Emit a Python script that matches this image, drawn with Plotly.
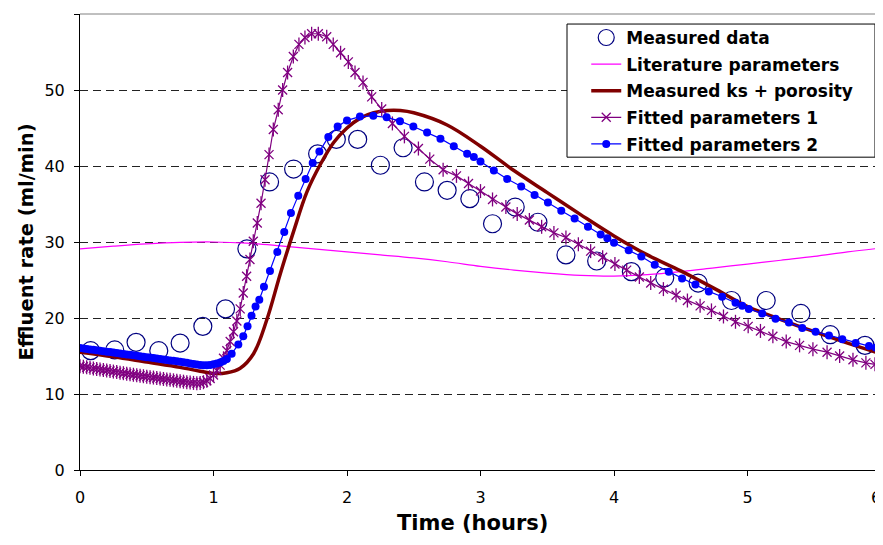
import plotly.graph_objects as go

# ---------------- data ----------------
# Measured data (open circles)
meas_t = [0.08, 0.26, 0.42, 0.59, 0.75, 0.92, 1.09, 1.25, 1.42, 1.60, 1.78, 1.92,
          2.08, 2.25, 2.42, 2.58, 2.75, 2.92, 3.09, 3.26, 3.43, 3.64, 3.87, 4.13,
          4.38, 4.63, 4.88, 5.14, 5.40, 5.62, 5.88]
meas_v = [15.7, 15.8, 16.8, 15.7, 16.7, 18.9, 21.2, 29.1, 37.9, 39.6, 41.6, 43.5,
          43.5, 40.1, 42.4, 37.9, 36.8, 35.7, 32.4, 34.6, 32.6, 28.3, 27.5, 26.1,
          25.3, 24.6, 22.3, 22.3, 20.6, 17.8, 16.4]

# Literature parameters (thin magenta line)
lit_t = [0, 0.25, 0.5, 0.75, 1.0, 1.25, 1.5, 1.75, 2.0, 2.25, 2.5, 2.75, 3.0,
         3.25, 3.5, 3.75, 4.0, 4.25, 4.5, 4.75, 5.0, 5.25, 5.5, 5.75, 6.0]
lit_v = [29.1, 29.45, 29.75, 29.95, 30.0, 29.85, 29.5, 29.1, 28.7, 28.3, 27.9,
         27.4, 26.8, 26.3, 25.9, 25.6, 25.5, 25.7, 26.1, 26.6, 27.1, 27.6, 28.1,
         28.7, 29.2]

# Measured ks + porosity (thick dark red line)
ks_t = [0, 0.25, 0.5, 0.75, 0.9, 1.0, 1.1, 1.2, 1.3, 1.4, 1.5, 1.6, 1.7, 1.8,
        1.9, 2.0, 2.1, 2.2, 2.3, 2.4, 2.5, 2.75, 3.0, 3.25, 3.5, 3.75, 4.0,
        4.25, 4.5, 4.75, 5.0, 5.25, 5.5, 5.75, 6.0]
ks_v = [15.5, 14.9, 14.2, 13.5, 13.0, 12.7, 12.8, 13.4, 15.3, 19.8, 25.8, 31.4,
        36.6, 40.2, 43.1, 45.0, 46.3, 47.0, 47.3, 47.3, 47.0, 45.4, 42.6, 39.4,
        36.5, 33.6, 30.8, 28.3, 26.2, 23.9, 21.5, 19.8, 18.2, 16.7, 15.3]

# Fitted parameters 1 (purple, star markers)
f1_t = [0.0, 0.025, 0.05, 0.075, 0.1, 0.125, 0.15, 0.175, 0.2, 0.225, 0.25,
        0.275, 0.3, 0.325, 0.35, 0.375, 0.4, 0.425, 0.45, 0.475, 0.5, 0.525,
        0.55, 0.575, 0.6, 0.625, 0.65, 0.675, 0.7, 0.725, 0.75, 0.775, 0.8,
        0.825, 0.85, 0.875, 0.9, 0.925, 0.95, 0.975,
        1.0, 1.025, 1.05, 1.075, 1.1, 1.125, 1.15, 1.175, 1.2, 1.223, 1.248,
        1.273, 1.298, 1.328, 1.356, 1.386, 1.416, 1.448, 1.485, 1.518, 1.555,
        1.598, 1.64, 1.685, 1.735, 1.785, 1.848, 1.897, 1.952, 2.01, 2.06,
        2.12, 2.185, 2.26, 2.34, 2.43, 2.535, 2.62, 2.72, 2.82, 2.91, 3.0,
        3.09, 3.19, 3.275, 3.366, 3.458, 3.55, 3.64, 3.733, 3.825, 3.915,
        4.007, 4.095, 4.19, 4.275, 4.37, 4.465, 4.55, 4.645, 4.73, 4.82, 4.91,
        5.005, 5.097, 5.19, 5.29, 5.39, 5.49, 5.596, 5.69, 5.79, 5.887, 5.955,
        6.0]
f1_v = [13.65, 13.58, 13.51, 13.44, 13.37, 13.3, 13.23, 13.16, 13.09, 13.02,
        12.95, 12.88, 12.81, 12.74, 12.67, 12.6, 12.53, 12.46, 12.4, 12.34,
        12.28, 12.22, 12.16, 12.1, 12.04, 11.98, 11.92, 11.86, 11.8, 11.74,
        11.68, 11.62, 11.56, 11.5, 11.46, 11.43, 11.45, 11.55, 11.75, 12.05,
        12.5, 13.1, 13.8, 14.7, 15.7, 16.9, 18.2, 19.6, 21.2, 23.3, 25.5,
        27.7, 30.1, 32.5, 35.1, 38.2, 41.5, 44.8, 47.4, 50.0, 52.3,
        54.4, 56.0, 56.9, 57.4, 57.4, 57.0, 56.0, 54.9, 53.7, 52.3,
        51.0, 49.1, 47.5, 45.6, 43.9, 42.3, 40.9, 39.5, 38.7, 37.7, 36.7,
        35.6, 34.6, 33.7, 32.9, 32.0, 31.2, 30.6, 29.7, 28.8, 28.0,
        27.1, 26.3, 25.4, 24.6, 23.8, 23.0, 22.3, 21.6, 21.0, 20.2, 19.5,
        18.9, 18.3, 17.6, 16.9, 16.4, 15.9, 15.5, 15.0, 14.5, 14.1, 13.9,
        13.6]

# Fitted parameters 2 (blue, filled circle markers)
f2_t = [0.0, 0.025, 0.05, 0.075, 0.1, 0.125, 0.15, 0.175, 0.2, 0.225, 0.25,
        0.275, 0.3, 0.325, 0.35, 0.375, 0.4, 0.425, 0.45, 0.475, 0.5, 0.525,
        0.55, 0.575, 0.6, 0.625, 0.65, 0.675, 0.7, 0.725, 0.75, 0.775, 0.8,
        0.825, 0.85, 0.875, 0.9, 0.925, 0.95, 0.975,
        1.0, 1.025, 1.05, 1.075, 1.1, 1.136, 1.186, 1.223, 1.255, 1.285,
        1.315, 1.343, 1.378, 1.423, 1.478, 1.53, 1.58, 1.635, 1.69, 1.743,
        1.793, 1.86, 1.93, 2.0, 2.097, 2.197, 2.297, 2.397, 2.497, 2.6, 2.7,
        2.8, 2.9, 2.95, 3.0, 3.1, 3.2, 3.305, 3.405, 3.505, 3.605, 3.705,
        3.805, 3.9, 3.95, 4.0, 4.11, 4.205, 4.305, 4.41, 4.51, 4.61, 4.71,
        4.81, 4.91, 4.96, 5.01, 5.11, 5.21, 5.31, 5.41, 5.51, 5.61, 5.71,
        5.81, 5.91, 5.96, 6.0]
f2_v = [16.05, 15.99, 15.93, 15.87, 15.81, 15.75, 15.69, 15.63, 15.57, 15.51,
        15.45, 15.39, 15.33, 15.27, 15.21, 15.15, 15.09, 15.03, 14.97, 14.91,
        14.85, 14.79, 14.73, 14.67, 14.6, 14.54, 14.48, 14.42, 14.36, 14.3,
        14.24, 14.18, 14.1, 14.02, 13.95, 13.88, 13.82, 13.78, 13.78, 13.82,
        13.9, 14.0, 14.15, 14.35, 14.6, 15.3, 16.5, 17.6, 18.9, 20.3,
        21.5, 22.4, 24.1, 26.2, 28.7, 31.3, 33.8, 36.1, 38.3, 40.4,
        41.9, 43.8, 45.2, 46.0, 46.5, 46.6, 46.4, 45.9, 45.2, 44.4, 43.6,
        42.6, 41.6, 41.2, 40.6, 39.4, 38.3, 37.3, 36.2, 35.2, 34.1, 33.1,
        32.0, 31.0, 30.5, 29.9, 28.9, 28.1, 27.0, 26.1, 25.2, 24.4, 23.5,
        22.8, 22.0, 21.6, 21.2, 20.6, 19.9, 19.4, 18.7, 18.2, 17.7, 17.2,
        16.7, 16.3, 16.1, 15.9]

x_ticks = [0, 1, 2, 3, 4, 5, 6]
x_labels = ["0", "1", "2", "3", "4", "5", "6"]
y_ticks = [0, 10, 20, 30, 40, 50, 60]

# ---------------- figure ----------------
FONT = "DejaVu Sans"
fig = go.Figure()

fig.add_trace(go.Scatter(
    x=meas_t, y=meas_v, mode="markers", name="<b>Measured data</b>",
    legendgroup="g1",
    marker=dict(symbol="circle-open", size=18, color="#000080",
                line=dict(width=1.2, color="#000080"))))
fig.add_trace(go.Scatter(
    x=lit_t, y=lit_v, mode="lines", name="<b>Literature parameters</b>",
    legendgroup="g2",
    line=dict(color="#FF00FF", width=1.2, shape="spline")))
fig.add_trace(go.Scatter(
    x=ks_t, y=ks_v, mode="lines", name="<b>Measured ks + porosity</b>",
    legendgroup="g3",
    line=dict(color="#800000", width=3.5, shape="spline")))
fig.add_trace(go.Scatter(
    x=f1_t, y=f1_v, mode="lines+markers", name="<b>Fitted parameters 1</b>",
    legendgroup="g4",
    line=dict(color="#800080", width=1.2),
    marker=dict(symbol="x-thin-open", size=9, color="#800080",
                line=dict(color="#800080", width=1.3))))
fig.add_trace(go.Scatter(
    x=f1_t, y=f1_v, mode="markers", showlegend=False, legendgroup="g4",
    hoverinfo="skip",
    marker=dict(symbol="line-ns-open", size=10, color="#800080",
                line=dict(color="#800080", width=1.3))))
fig.add_trace(go.Scatter(
    x=f2_t, y=f2_v, mode="lines+markers", name="<b>Fitted parameters 2</b>",
    legendgroup="g5",
    line=dict(color="#0000FF", width=1.2),
    marker=dict(symbol="circle", size=8, color="#0000FF",
                line=dict(width=0))))

# plot-area frame (top and right, grey) and the legend box
fig.add_shape(type="line", xref="paper", yref="paper", x0=0, x1=1, y0=1, y1=1,
              line=dict(color="#808080", width=1), layer="below")
fig.add_shape(type="line", xref="paper", yref="paper", x0=1, x1=1, y0=0, y1=1,
              line=dict(color="#808080", width=1), layer="below")
fig.add_shape(type="rect", xref="paper", yref="paper",
              x0=0.608, x1=0.9925, y0=0.686, y1=0.978,
              line=dict(color="black", width=1), fillcolor="white",
              layer="above")

# x-axis title (placed as text so it sits where the reference has it)
fig.add_annotation(text="<b>Time (hours)</b>", xref="paper", yref="paper",
                   x=0.4906, y=0, xanchor="center", yanchor="middle",
                   yshift=-53, showarrow=False,
                   font=dict(family=FONT, size=21, color="black"))
# last x tick label, kept fully inside the picture at the right edge
fig.add_annotation(text=x_labels[-1], xref="paper", yref="paper",
                   x=1.0025, y=0, xanchor="right", yanchor="middle",
                   yshift=-27, showarrow=False,
                   font=dict(family=FONT, size=16, color="black"))

# The page body has an 8px margin, so the figure is 8px smaller than the
# window and the margins are reduced by 8px to keep the reference layout.
fig.update_layout(
    width=875, height=537,
    margin=dict(l=72, r=2, t=6, b=75, autoexpand=False),
    paper_bgcolor="white", plot_bgcolor="white",
    font=dict(family=FONT, size=16, color="black"),
    showlegend=True,
    legend=dict(x=0.632, y=0.987, xanchor="left", yanchor="top",
                borderwidth=0, bgcolor="rgba(0,0,0,0)",
                font=dict(family=FONT, size=17, color="black"),
                traceorder="grouped", tracegroupgap=1.5,
                itemwidth=30),
)
fig.update_xaxes(
    range=[0, 6], tickvals=x_ticks, ticktext=x_labels[:-1] + [""],
    ticks="outside", ticklen=5, tickcolor="black", tickwidth=1,
    showline=True, linecolor="black", linewidth=1,
    showgrid=False, zeroline=False, automargin=False,
    ticklabeloverflow="allow", ticklabelstandoff=8,
    tickfont=dict(family=FONT, size=16, color="black"),
)
fig.update_yaxes(
    range=[0, 60], tickvals=y_ticks, ticktext=[str(v) for v in y_ticks],
    ticks="outside", ticklen=5, tickcolor="black", tickwidth=1,
    showline=True, linecolor="black", linewidth=1,
    showgrid=True, gridcolor="#222222", gridwidth=1, griddash="8px,5px",
    zeroline=False, automargin=False, ticklabelstandoff=6,
    tickfont=dict(family=FONT, size=16, color="black"),
    title=dict(text="<b>Effluent rate (ml/min)</b>",
               font=dict(family=FONT, size=19.5, color="black"), standoff=5),
)

fig.write_html("out.html")
